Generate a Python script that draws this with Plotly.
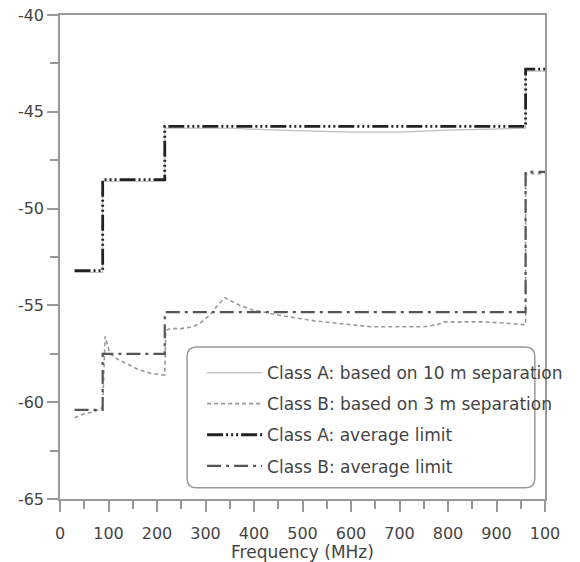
import plotly.graph_objects as go

# ---- data ----
limit_freq = [30, 88, 216, 960, 1000]
class_a_avg = [-53.2, -48.5, -45.75, -42.8, -42.8]
class_b_avg = [-60.4, -57.5, -55.35, -48.1, -48.1]

class_a_10m_freq = [30, 88, 88, 216, 216, 350, 450, 600, 700, 800, 960, 960, 1000]
class_a_10m_val = [-53.3, -53.3, -48.6, -48.6, -45.85, -45.85, -45.95, -46.05, -46.05, -45.95, -45.85, -42.9, -42.9]

class_b_3m_freq = [30, 50, 70, 86, 88, 93, 103, 120, 137, 160, 186, 212, 216, 218, 227, 250, 274, 290,
                   309, 325, 340, 355, 371, 398, 411, 450, 487, 525, 563, 600, 640, 680, 716, 750,
                   777, 792, 830, 869, 910, 953, 960, 960, 1000]
class_b_3m_val = [-60.8, -60.6, -60.5, -60.3, -60.2, -56.6, -57.5, -57.8, -58.0, -58.3, -58.5, -58.6, -58.6,
                  -56.3, -56.2, -56.2, -56.1, -55.9, -55.5, -55.0, -54.6, -54.8, -55.0, -55.25, -55.3,
                  -55.5, -55.65, -55.8, -55.9, -56.0, -56.1, -56.1, -56.1, -56.1, -56.0, -55.85, -55.85,
                  -55.85, -55.9, -56.0, -56.0, -48.2, -48.2]

x_tick_vals = [0, 100, 200, 300, 400, 500, 600, 700, 800, 900, 1000]
x_tick_text = ["0", "100", "200", "300", "400", "500", "600", "700", "800", "900", "100"]
y_tick_vals = [-65, -60, -55, -50, -45, -40]
y_tick_text = ["-65", "-60", "-55", "-50", "-45", "-40"]

names = ["Class A: based on 10 m separation", "Class B: based on 3 m separation",
         "Class A: average limit", "Class B: average limit"]

fig = go.Figure()
fig.add_trace(go.Scatter(x=class_a_10m_freq, y=class_a_10m_val, mode="lines", name=names[0],
                         legendgroup="g1", line=dict(color="#bdbdbd", width=1.2)))
fig.add_trace(go.Scatter(x=class_b_3m_freq, y=class_b_3m_val, mode="lines", name=names[1],
                         legendgroup="g2", line=dict(color="#9a9a9a", width=1.6, dash="4px,3px")))
fig.add_trace(go.Scatter(x=limit_freq, y=class_a_avg, mode="lines", name=names[2],
                         legendgroup="g3", line_shape="hv",
                         line=dict(color="#222222", width=2.8, dash="16px,3px,2px,3px,2px,3px,2px,3px")))
fig.add_trace(go.Scatter(x=limit_freq, y=class_b_avg, mode="lines", name=names[3],
                         legendgroup="g4", line_shape="hv",
                         line=dict(color="#555555", width=2.2, dash="14px,5px,3px,5px")))

axis_common = dict(showline=True, linecolor="#999999", linewidth=1.5, mirror=True,
                   ticks="outside", tickcolor="#999999", tickwidth=1.5, ticklen=11,
                   showgrid=False, zeroline=False, automargin=False,
                   tickfont=dict(family="DejaVu Sans", size=16, color="#444444"))

fig.update_layout(
    width=580, height=562,
    margin=dict(l=60, r=35, t=15, b=63),
    paper_bgcolor="white", plot_bgcolor="white",
    xaxis=dict(range=[0, 1000], tickvals=x_tick_vals, ticktext=x_tick_text,
               ticklabelstandoff=8,
               minor=dict(dtick=50, ticks="outside", ticklen=8, tickcolor="#999999", tickwidth=1.5),
               title=dict(text="Frequency (MHz)", font=dict(family="DejaVu Sans", size=17, color="#444444"),
                          standoff=0),
               **axis_common),
    yaxis=dict(range=[-65, -40], tickvals=y_tick_vals, ticktext=y_tick_text,
               minor=dict(dtick=2.5, ticks="outside", ticklen=8, tickcolor="#999999", tickwidth=1.5),
               **axis_common),
    legend=dict(x=0.293, y=0.2975, xanchor="left", yanchor="top",
                bgcolor="rgba(0,0,0,0)", borderwidth=0,
                font=dict(family="DejaVu Sans", size=17, color="#444444"),
                itemwidth=55, tracegroupgap=6, traceorder="grouped"),
    showlegend=True,
)

# rounded legend frame
x0, x1, y0, y1, r = 0.262, 0.979, 0.023, 0.314, 0.02
ry = r * 485 / 484
path = (f"M {x0+r},{y1} L {x1-r},{y1} Q {x1},{y1} {x1},{y1-ry} L {x1},{y0+ry} "
        f"Q {x1},{y0} {x1-r},{y0} L {x0+r},{y0} Q {x0},{y0} {x0},{y0+ry} L {x0},{y1-ry} "
        f"Q {x0},{y1} {x0+r},{y1} Z")
fig.add_shape(type="path", xref="paper", yref="paper", path=path,
              line=dict(color="#999999", width=1.5), fillcolor="rgba(0,0,0,0)")

fig.write_html("out.html")
